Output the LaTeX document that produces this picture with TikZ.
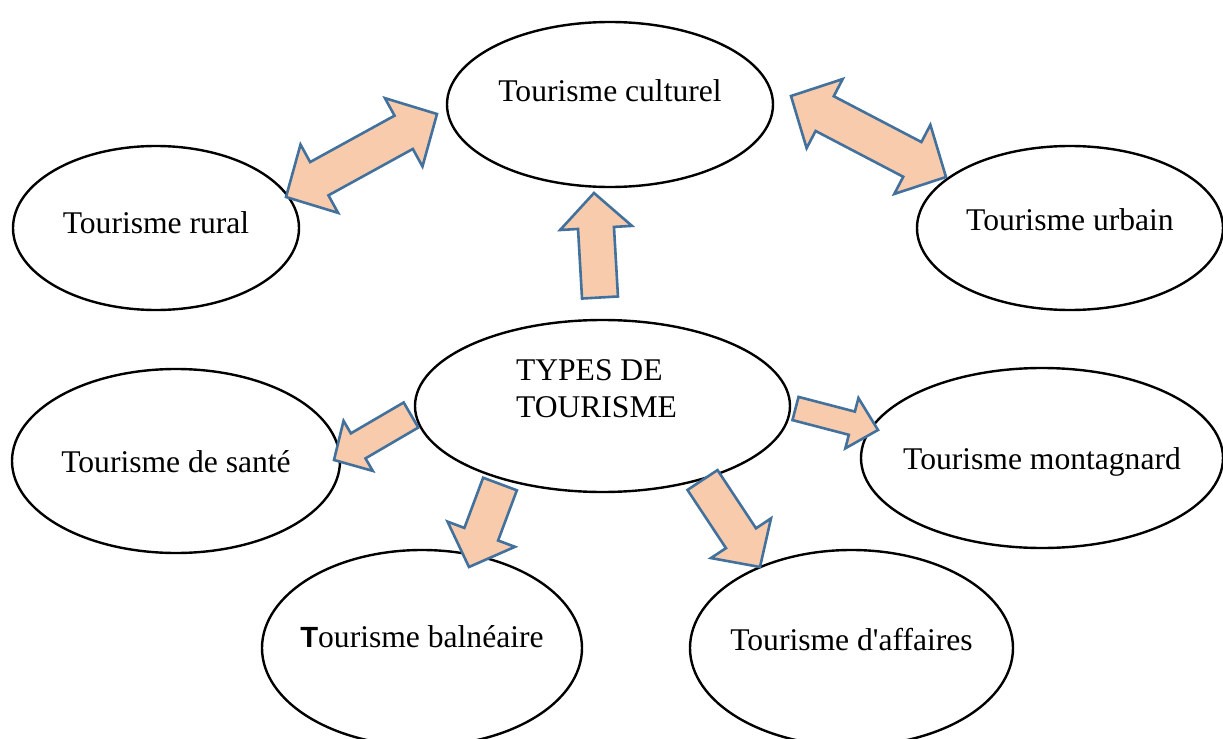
\documentclass[tikz,border=0pt]{standalone}
\usepackage{fontspec}
\setmainfont{Liberation Serif}
\newfontfamily\arialfont{Liberation Sans}
\usepackage{xcolor}
\usepackage{tikz}
\usetikzlibrary{
  shapes.geometric,
  calc
}
\definecolor{peche}{HTML}{F8CBAD}
\definecolor{bordbleu}{HTML}{41719C}
\tikzset{
  bulle/.style={ellipse,draw,line width=1.2pt,inner sep=0pt,
    font=\fontsize{15.8}{18.5}\selectfont,text height=11pt,text depth=6pt,
    execute at begin node={\hbox to 0pt\bgroup\hss},
    execute at end node={\hss\egroup}},
  bloc/.style={fill=peche,draw=bordbleu,line width=1.3pt}
}
% fleche pleine : depart, pointe, demi-corps, demi-tete, longueur tete
\newcommand{\flecheSimple}[5]{%
  \path ($(#2)!#5!(#1)$) coordinate (fs-h);
  \filldraw[bloc] ($(#1)!#3!90:(#2)$) -- ($(fs-h)!#3!90:(#2)$) -- ($(fs-h)!#4!90:(#2)$) -- (#2)
    -- ($(fs-h)!#4!-90:(#2)$) -- ($(fs-h)!#3!-90:(#2)$) -- ($(#1)!#3!-90:(#2)$) -- cycle;}
% fleche double
\newcommand{\flecheDouble}[5]{%
  \path ($(#2)!#5!(#1)$) coordinate (fd-h) ($(#1)!#5!(#2)$) coordinate (fd-t);
  \filldraw[bloc] (#1) -- ($(fd-t)!#4!90:(#2)$) -- ($(fd-t)!#3!90:(#2)$) -- ($(fd-h)!#3!90:(#2)$)
    -- ($(fd-h)!#4!90:(#2)$) -- (#2) -- ($(fd-h)!#4!-90:(#2)$) -- ($(fd-h)!#3!-90:(#2)$)
    -- ($(fd-t)!#3!-90:(#2)$) -- ($(fd-t)!#4!-90:(#2)$) -- cycle;}

\begin{document}
\begin{tikzpicture}[x=0.5pt,y=-0.5pt]
    \useasboundingbox (0,0) rectangle (1223,739);
    \clip (0,0) rectangle (1223,739);

    % les bulles
    \node[bulle,minimum width=163pt,minimum height=82.5pt,text depth=14.5pt] (culturel) at (610,104.5) {Tourisme culturel};
    \node[bulle,minimum width=143pt,minimum height=82pt] (rural) at (156,228) {Tourisme rural};
    \node[bulle,minimum width=153pt,minimum height=82pt,text depth=9pt] (urbain) at (1070,228) {Tourisme urbain};
    \node[bulle,minimum width=187.5pt,minimum height=86pt,text depth=-3pt] (types) at (602.5,406)
        {\hspace{-6pt}\begin{tabular}[b]{@{}l@{}}TYPES DE\\TOURISME\end{tabular}};
    \node[bulle,minimum width=164pt,minimum height=92pt,text depth=-1pt] (sante) at (176,461) {Tourisme de santé};
    \node[bulle,minimum width=181pt,minimum height=90pt,text depth=-1pt] (montagnard) at (1042,458) {Tourisme montagnard};
    \node[bulle,minimum width=160pt,minimum height=98pt,text depth=12pt] (balneaire) at (422,648)
        {{\arialfont\bfseries\fontsize{14.6}{18}\selectfont T}ourisme balnéaire};
    \node[bulle,minimum width=161.5pt,minimum height=98pt,text depth=9pt] (affaires) at (851.5,648) {Tourisme d\textquotesingle affaires};

    % les fleches
    \coordinate (ru1) at (286,197);   \coordinate (ru2) at (437,114);
    \coordinate (ub1) at (791,96);    \coordinate (ub2) at (946,177);
    \coordinate (cu1) at (600,297.5); \coordinate (cu2) at (594,193);
    \coordinate (sa1) at (411,415);   \coordinate (sa2) at (334,460);
    \coordinate (mo1) at (795.5,408.5); \coordinate (mo2) at (878,430);
    \coordinate (ba1) at (500,484);   \coordinate (ba2) at (469,567);
    \coordinate (af1) at (702.5,480); \coordinate (af2) at (760,567);

    \flecheDouble{ru1}{ru2}{9.5pt}{19.5pt}{19pt}
    \flecheDouble{ub1}{ub2}{9.8pt}{19.5pt}{19pt}
    \flecheSimple{cu1}{cu2}{9pt}{18pt}{17.5pt}
    \flecheSimple{sa1}{sa2}{7.25pt}{14.5pt}{14pt}
    \flecheSimple{mo1}{mo2}{6pt}{13pt}{13.5pt}
    \flecheSimple{ba1}{ba2}{9pt}{18pt}{17.5pt}
    \flecheSimple{af1}{af2}{9pt}{18pt}{17.25pt}
\end{tikzpicture}
\end{document}
